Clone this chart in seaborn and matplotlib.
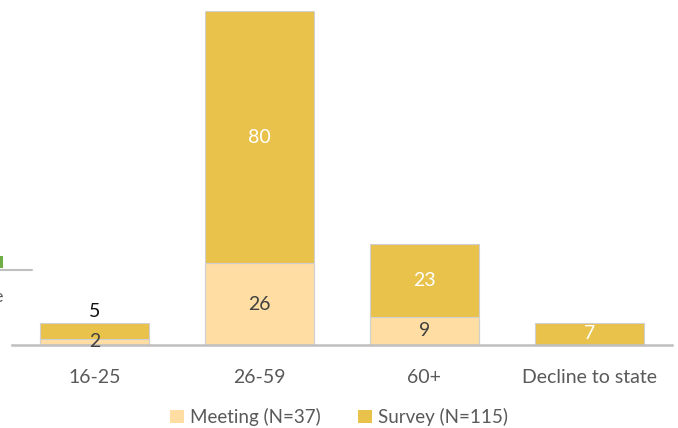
import matplotlib
matplotlib.use("Agg")
import matplotlib.pyplot as plt
import seaborn as sns
import pandas as pd
from matplotlib.patches import Patch, Rectangle
from matplotlib.lines import Line2D

# data
categories = ["16-25", "26-59", "60+", "Decline to state"]
meeting = [2, 26, 9, 0]
survey = [5, 80, 23, 7]
labels = ["Meeting (N=37)", "Survey (N=115)"]

meeting_color = "#FFDDA3"
survey_color = "#E9C24C"

sns.set_style("white")
plt.rcParams["font.family"] = ["Lato", "DejaVu Sans"]

df = pd.DataFrame({
    "category": categories,
    "meeting": meeting,
    "survey": survey,
})
df["total"] = df["meeting"] + df["survey"]

fig = plt.figure(figsize=(6.78, 4.28), dpi=100)
ax = fig.add_axes([12 / 678, 1 - 345 / 428, 660 / 678, 334 / 428])

# stacked bars: total first (survey colour), meeting drawn over the bottom part
sns.barplot(data=df, x="category", y="total", color=survey_color, saturation=1,
            width=0.66, edgecolor="#D0D0D0", linewidth=0.8, ax=ax)
sns.barplot(data=df, x="category", y="meeting", color=meeting_color, saturation=1,
            width=0.66, edgecolor="#D0D0D0", linewidth=0.8, ax=ax)

ax.set_xlim(-0.5, 3.5)
ax.set_ylim(0, 106)
ax.set_xlabel("")
ax.set_ylabel("")
ax.set_yticks([])
for s in ["top", "right", "left"]:
    ax.spines[s].set_visible(False)
ax.spines["bottom"].set_color("#BFBFBF")
ax.spines["bottom"].set_linewidth(1.8)
ax.tick_params(axis="x", length=0, pad=17, labelsize=14, labelcolor="#595959")

# value labels
for i, (m, s) in enumerate(zip(meeting, survey)):
    if m > 0:
        ax.text(i, m / 2, str(m), ha="center", va="center", fontsize=14, color="#404040")
    if s >= 7:
        ax.text(i, m + s / 2, str(s), ha="center", va="center", fontsize=14, color="white")
    else:
        ax.text(i, m + s + 3.7, str(s), ha="center", va="center", fontsize=14, color="#111111")

handles = [Patch(facecolor=meeting_color, edgecolor="none"),
           Patch(facecolor=survey_color, edgecolor="none")]
fig.legend(handles, labels, loc="center", bbox_to_anchor=(0.5, 1 - 417 / 428), ncol=2,
           frameon=False, fontsize=13.5, handlelength=0.75, handleheight=0.75,
           handletextpad=0.3, columnspacing=2.0, labelcolor="#595959")

# remnants of a neighbouring chart cut off at the left edge
fig.add_artist(Line2D([0, 32 / 678], [1 - 270 / 428] * 2, color="#BFBFBF", linewidth=1.5))
fig.add_artist(Rectangle((0, 1 - 268 / 428), 2.5 / 678, 12 / 428, color="#70AD47", linewidth=0))
fig.text(0.004, 1 - 297 / 428, "e", ha="right", va="center", fontsize=13, color="#595959")

fig.savefig("out.png", dpi=100)
